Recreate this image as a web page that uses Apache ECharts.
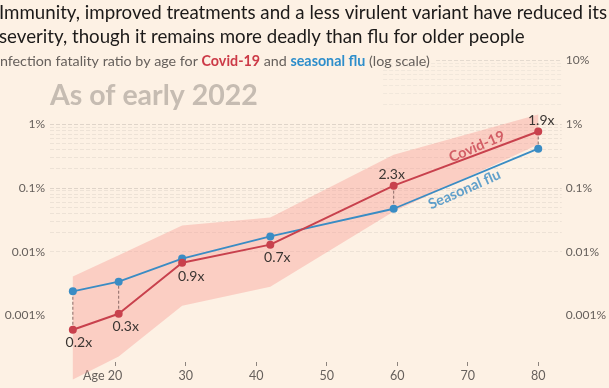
<!DOCTYPE html>
<html>
<head>
<meta charset="utf-8">
<script src="https://cdn.jsdelivr.net/npm/echarts@6/dist/echarts.min.js"></script>
<style>
html,body{margin:0;padding:0;background:#fdf1e4;}
#chart{width:609px;height:388px;}
</style>
</head>
<body>
<div id="chart"></div>
<script>
// ---- data ----
const ages = [14, 20.5, 29.5, 42, 59.5, 80];
const covid = [0.0006, 0.00107, 0.0067, 0.0129, 0.108, 0.76];
const flu = [0.0024, 0.0034, 0.0078, 0.0173, 0.047, 0.41];
const ratios = ['0.2x', '0.3x', '0.9x', '0.7x', '2.3x', '1.9x'];
const bandUpper = [0.0041, 0.0088, 0.0256, 0.0342, 0.33, 1.4];
const bandLower = [0.0001, 0.00023, 0.00142, 0.00284, 0.0425, 0.474];
const xTicks = [20, 30, 40, 50, 60, 70, 80];
const yTicks = [10, 1, 0.1, 0.01, 0.001];
const seriesNames = ['Covid-19', 'Seasonal flu'];
const seriesLabelAnchors = [[71.3, 0.44], [69.55, 0.094]];

// ---- styles ----
const RED = '#c8414d', BLUE = '#3a8cc4', BG = '#fdf1e4';
const ratioOffsets = [[6, 13], [7, 13], [9, 14], [7, 13], [-2, -11], [3, -11]];
const FONT = 'Lato';

// grid line values (log-scale minor lines)
const majorLines = yTicks.slice();
const minorLines = [];
const upperMinor = [];
[0.0001, 0.001, 0.01, 0.1, 1].forEach(dec => {
  for (let d = 2; d <= 9; d++) {
    const v = +(d * dec).toPrecision(3);
    if (dec === 0.0001 && d < 4) continue;
    if (dec === 1) upperMinor.push(v); else minorLines.push(v);
  }
});

const markData = [];
majorLines.forEach(v => {
  if (v === 10) {
    markData.push([{coord: [65.5, v], lineStyle: {color: '#e4dacf', width: 1}}, {coord: [83.33, v]}]);
  } else {
    markData.push({yAxis: v, lineStyle: {color: '#dfd4c9', width: 1}});
  }
});
minorLines.forEach(v => markData.push({yAxis: v, lineStyle: {color: '#ede2d6', width: 1}}));
upperMinor.forEach(v => markData.push([{coord: [58, v], lineStyle: {color: '#f1e7db', width: 1}}, {coord: [83.33, v]}]));

function fmtPct(v) {
  const map = {10: '10%', 1: '1%', 0.1: '0.1%', 0.01: '0.01%', 0.001: '0.001%'};
  const k = +v.toPrecision(1);
  return map[k] !== undefined ? map[k] : '';
}

const chart = echarts.init(document.getElementById('chart'));
const option = {
  backgroundColor: BG,
  animation: false,
  textStyle: {fontFamily: FONT},
  grid: {left: 50, right: 43, top: 60, bottom: 8.5, containLabel: false},
  xAxis: {
    type: 'value', min: 10.76, max: 83.33, offset: -17.5,
    axisLine: {show: false},
    splitLine: {show: false},
    axisTick: {show: true, customValues: xTicks, length: 4, lineStyle: {color: '#8d847e'}},
    axisLabel: {
      customValues: xTicks, margin: 7, color: '#66605c', fontSize: 12.5, fontFamily: FONT,
      formatter: v => v === 20 ? '{h|Age }20{p|}' : String(v),
      rich: {h: {fontSize: 12.5, color: '#66605c', fontFamily: FONT}, p: {width: 25}}
    }
  },
  yAxis: [
    {
      type: 'log', logBase: 10, min: 0.0001, max: 10, position: 'left',
      axisLine: {show: false}, axisTick: {show: false}, splitLine: {show: false},
      axisLabel: {margin: 5, color: '#66605c', fontSize: 12, fontFamily: FONT,
        formatter: v => (v >= 10 ? '' : fmtPct(v))}
    },
    {
      type: 'log', logBase: 10, min: 0.0001, max: 10, position: 'right',
      axisLine: {show: false}, axisTick: {show: false}, splitLine: {show: false},
      axisLabel: {margin: 4, color: '#66605c', fontSize: 12, fontFamily: FONT,
        formatter: v => fmtPct(v)}
    }
  ],
  graphic: [
    {type: 'text', left: -1, top: 3, style: {text: 'Immunity, improved treatments and a less virulent variant have reduced its', fill: '#1c1a19', font: '18.7px Lato'}},
    {type: 'text', left: -1, top: 27, style: {text: 'severity, though it remains more deadly than flu for older people', fill: '#1c1a19', font: '18.7px Lato'}},
    {type: 'text', left: -4, top: 54, z: 10, style: {
      text: '{g|Infection fatality ratio by age for }{r|Covid-19}{g| and }{b|seasonal flu}{g| (log scale)}',
      rich: {
        g: {fill: '#66605c', font: '14.3px Lato'},
        r: {fill: '#cc3a47', font: 'bold 14.3px Lato'},
        b: {fill: '#2e8ecb', font: 'bold 14.3px Lato'}
      }
    }},
    {type: 'text', left: 50, top: 81, z: 10, style: {text: 'As of early 2022', fill: '#c6bcb2', font: 'bold 28.5px Lato'}}
  ],
  series: [
    {
      type: 'line', data: [], silent: true, z: 1,
      markLine: {z: 1, silent: true, symbol: 'none', label: {show: false}, animation: false, data: markData}
    },
    {
      type: 'custom', z: 10, silent: true,
      data: [[ages[0], bandUpper[0]]],
      encode: {x: 0, y: 1},
      renderItem: (params, api) => {
        const up = ages.map((a, i) => api.coord([a, bandUpper[i]]));
        const lo = ages.map((a, i) => api.coord([a, bandLower[i]])).reverse();
        return {type: 'polygon', shape: {points: up.concat(lo)}, style: {fill: 'rgba(248,158,150,0.42)'}};
      }
    },
    {
      type: 'custom', z: 11, silent: true,
      data: ages.map((a, i) => [a, covid[i], flu[i]]),
      encode: {x: 0, y: [1, 2]},
      renderItem: (params, api) => {
        const p1 = api.coord([api.value(0), api.value(1)]);
        const p2 = api.coord([api.value(0), api.value(2)]);
        return {type: 'line', shape: {x1: p1[0], y1: p1[1], x2: p2[0], y2: p2[1]},
          style: {stroke: '#8a6a66', lineWidth: 1, lineDash: [3, 2]}};
      }
    },
    {
      name: 'Seasonal flu', type: 'line', z: 12,
      data: ages.map((a, i) => [a, flu[i]]),
      lineStyle: {color: BLUE, width: 1.8},
      itemStyle: {color: BLUE},
      symbol: 'circle', symbolSize: 8, showAllSymbol: true
    },
    {
      name: 'Covid-19', type: 'line', z: 13,
      data: ages.map((a, i) => ({
        value: [a, covid[i]],
        label: {show: true, formatter: ratios[i], position: 'inside', offset: ratioOffsets[i],
          color: '#3a3532', fontSize: 14, fontFamily: FONT}
      })),
      lineStyle: {color: RED, width: 2},
      itemStyle: {color: RED},
      symbol: 'circle', symbolSize: 8, showAllSymbol: true
    },
    {
      type: 'scatter', z: 14, silent: true, symbolSize: 0,
      data: seriesLabelAnchors.map((p, i) => ({
        value: p,
        label: {show: true, position: 'inside', formatter: seriesNames[i], rotate: i === 0 ? 23 : 24,
          color: i === 0 ? RED : BLUE, fontWeight: 'bold', fontSize: 14.5, fontFamily: FONT}
      }))
    }
  ]
};
chart.setOption(option);
</script>
</body>
</html>
